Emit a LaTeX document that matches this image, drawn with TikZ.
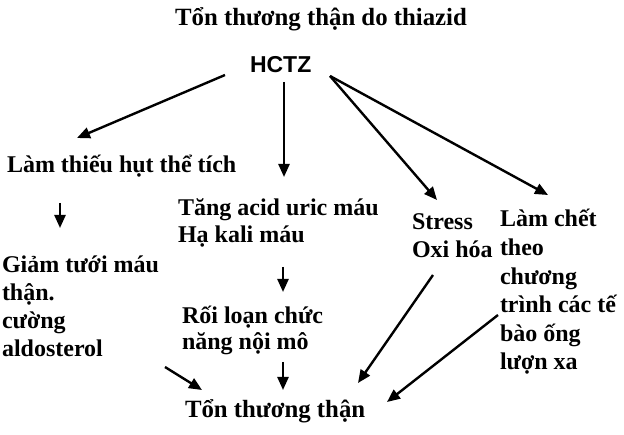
\documentclass[tikz,border=0pt]{standalone}
\usepackage{fontspec}
\setmainfont{Liberation Serif}
\newfontfamily\hfont{Liberation Sans}
\usetikzlibrary{arrows.meta}
\begin{document}
\begin{tikzpicture}[x=1pt,y=-1pt,
  lbl/.style={inner sep=0pt,outer sep=0pt,anchor=base west,align=left,
    font=\fontsize{24}{28.3}\selectfont\bfseries},
  lblbig/.style={lbl,font=\fontsize{24.8}{28}\selectfont\bfseries},
  lblmid/.style={lbl,font=\fontsize{24}{26.5}\selectfont\bfseries},
  arr/.style={line width=2.4pt,-{Triangle[length=13pt,width=11pt]}}]
\fill[white] (0,0) rectangle (624,435);
\useasboundingbox (0,0) rectangle (624,435);
% multi-line nodes are placed by the baseline of their last line
\node[lblbig,anchor=base] (title) at (321,26) {Tổn thương thận do thiazid};
\node[lbl,font=\fontsize{23}{26}\selectfont\hfont\bfseries] (hctz) at (250,73) {HCTZ};
\node[lbl] (lam) at (7,173) {Làm thiếu hụt thể tích};
\node[lblmid] (tang) at (178,242.5) {Tăng acid uric máu\\Hạ kali máu};
\node[lbl] (stress) at (412,258) {Stress\\Oxi hóa};
\node[lbl,font=\fontsize{24}{28.6}\selectfont\bfseries] (chet) at (500,370) {Làm chết\\theo\\chương\\trình các tế\\bào ống\\lượn xa};
\node[lbl] (giam) at (2,357) {Giảm tưới máu\\thận.\\cường\\aldosterol};
\node[lblmid] (roi) at (182,350) {Rối loạn chức\\năng nội mô};
\node[lblbig] (ton) at (185,418) {Tổn thương thận};
% connectors
\draw[arr] ([shift={(-25,2)}]hctz.base west) -- ([shift={(70,-35)}]lam.base west);
\draw[arr] ([shift={(34,9)}]hctz.base west) -- ([shift={(106,-65.5)}]tang.base west);
\draw[arr] ([shift={(80,3)}]hctz.base west) -- ([shift={(25,-58)}]stress.base west);
\draw[arr] ([shift={(80,3)}]hctz.base west) -- ([shift={(48,-175)}]chet.base west);
\draw[arr] ([shift={(53,30)}]lam.base west) -- ([shift={(58,-129)}]giam.base west);
\draw[arr] ([shift={(105,24.5)}]tang.base west) -- ([shift={(101,-58)}]roi.base west);
\draw[arr] ([shift={(101,12)}]roi.base west) -- ([shift={(98,-28)}]ton.base west);
\draw[arr] ([shift={(163,10)}]giam.base west) -- ([shift={(17,-28)}]ton.base west);
\draw[arr] ([shift={(21,17)}]stress.base west) -- ([shift={(173,-35)}]ton.base west);
\draw[arr] ([shift={(-2,-55)}]chet.base west) -- ([shift={(202,-16)}]ton.base west);
\end{tikzpicture}
\end{document}
